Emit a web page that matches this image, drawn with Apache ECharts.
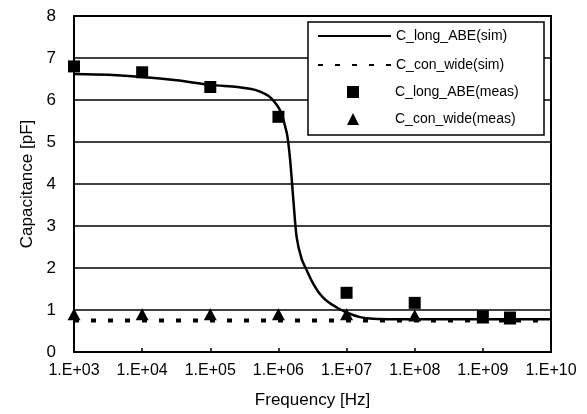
<!DOCTYPE html>
<html>
<head>
<meta charset="utf-8">
<title>Capacitance vs Frequency</title>
<script src="https://cdn.jsdelivr.net/npm/echarts@6/dist/echarts.min.js"></script>
<style>
  html, body { margin: 0; padding: 0; background: #fff; }
  #chart { width: 587px; height: 414px; }
</style>
</head>
<body>
<div id="chart"></div>
<script>
// simulated C_long_ABE curve
var simLongFreq = [1e3, 3.2e3, 1e4, 3.2e4, 1e5, 2.5e5, 4e5, 5.37e5, 7.08e5, 8.5e5, 1.05e6, 1.32e6, 1.48e6, 1.66e6, 1.86e6, 2.19e6, 2.63e6, 3.16e6, 4.07e6, 5.25e6, 7.2e6, 1e7, 1.58e7, 2.5e7, 5e7, 1e8, 1e9, 1e10];
var simLongVal  = [6.62, 6.60, 6.55, 6.47, 6.36, 6.31, 6.26, 6.2, 6.1, 5.98, 5.76, 5.23, 4.6, 3.6, 2.71, 2.22, 1.93, 1.66, 1.38, 1.2, 1.06, 0.94, 0.83, 0.79, 0.78, 0.78, 0.78, 0.78];
// simulated C_con_wide (flat)
var simWideFreq = [1e3, 1e4, 1e5, 1e6, 1e7, 1e8, 1e9, 1e10];
var simWideVal  = [0.75, 0.75, 0.75, 0.75, 0.75, 0.75, 0.75, 0.75];
// measurements
var measFreq     = [1e3, 1e4, 1e5, 1e6, 1e7, 1e8, 1e9, 2.5e9];
var measLongVal  = [6.8, 6.66, 6.31, 5.6, 1.41, 1.17, 0.85, 0.82];
var measWideVal  = [0.9, 0.9, 0.9, 0.9, 0.9, 0.87, 0.82, 0.8];
var yTicks = [0, 1, 2, 3, 4, 5, 6, 7, 8];

function pairs(xs, ys) {
    var out = [];
    for (var i = 0; i < xs.length; i++) out.push([xs[i], ys[i]]);
    return out;
}

var font = 'Liberation Sans, Arial, sans-serif';
var chart = echarts.init(document.getElementById('chart'));

var option = {
    animation: false,
    backgroundColor: '#fff',
    grid: {
        left: 74, right: 36, top: 16, bottom: 59,
        show: true, borderColor: '#000', borderWidth: 2
    },
    xAxis: {
        type: 'log',
        logBase: 10,
        min: 1e3,
        max: 1e10,
        name: 'Frequency [Hz]',
        nameLocation: 'middle',
        nameGap: 40,
        nameTextStyle: { fontFamily: font, fontSize: 17, color: '#000' },
        axisLine: { lineStyle: { color: '#000', width: 2 } },
        axisTick: { show: true, inside: true, length: 4, lineStyle: { color: '#000', width: 1.5 } },
        minorTick: { show: false },
        splitLine: { show: false },
        axisLabel: {
            fontFamily: font, fontSize: 16, color: '#000', margin: 11,
            formatter: function (v) {
                var e = Math.round(Math.log10(v));
                return '1.E+' + (e < 10 ? '0' + e : e);
            }
        }
    },
    yAxis: {
        type: 'value',
        min: yTicks[0],
        max: yTicks[yTicks.length - 1],
        interval: 1,
        name: 'Capacitance [pF]',
        nameLocation: 'middle',
        nameGap: 38,
        nameTextStyle: { fontFamily: font, fontSize: 17, color: '#000' },
        axisLine: { show: true, lineStyle: { color: '#000', width: 2 } },
        axisTick: { show: false },
        splitLine: { lineStyle: { color: '#000', width: 1.5 } },
        axisLabel: { fontFamily: font, fontSize: 17, color: '#000', margin: 18 }
    },
    graphic: [{
        type: 'rect',
        z: 5,
        shape: { x: 308, y: 22, width: 236, height: 113 },
        style: { fill: '#fff', stroke: '#000', lineWidth: 1.5 }
    }],
    legend: [{
        z: 6,
        left: 312, top: 24,
        orient: 'vertical',
        itemWidth: 73, itemHeight: 12, itemGap: 15,
        itemStyle: { opacity: 0 },
        textStyle: { fontFamily: font, fontSize: 14, color: '#000' },
        data: ['C_long_ABE(sim)', 'C_con_wide(sim)']
    }, {
        z: 6,
        left: 342, top: 80,
        orient: 'vertical',
        itemWidth: 12, itemHeight: 12, itemGap: 13,
        textStyle: { fontFamily: font, fontSize: 14, color: '#000', padding: [0, 0, 0, 31] },
        data: ['C_long_ABE(meas)', 'C_con_wide(meas)']
    }],
    series: [{
        name: 'C_long_ABE(sim)',
        type: 'line',
        data: pairs(simLongFreq, simLongVal),
        symbol: 'none',
        smooth: 0.3,
        itemStyle: { color: '#000' },
        lineStyle: { color: '#000', width: 2.5 },
        z: 3
    }, {
        name: 'C_con_wide(sim)',
        type: 'line',
        data: pairs(simWideFreq, simWideVal),
        symbol: 'none',
        itemStyle: { color: '#000' },
        lineStyle: { color: '#000', width: 4, type: [5, 12] },
        z: 3
    }, {
        name: 'C_long_ABE(meas)',
        type: 'scatter',
        data: pairs(measFreq, measLongVal),
        symbol: 'rect',
        symbolSize: 12,
        itemStyle: { color: '#000', opacity: 1 },
        z: 4
    }, {
        name: 'C_con_wide(meas)',
        type: 'scatter',
        data: pairs(measFreq, measWideVal),
        symbol: 'triangle',
        symbolSize: [13, 12],
        itemStyle: { color: '#000', opacity: 1 },
        z: 4
    }]
};
chart.setOption(option);
</script>
</body>
</html>
